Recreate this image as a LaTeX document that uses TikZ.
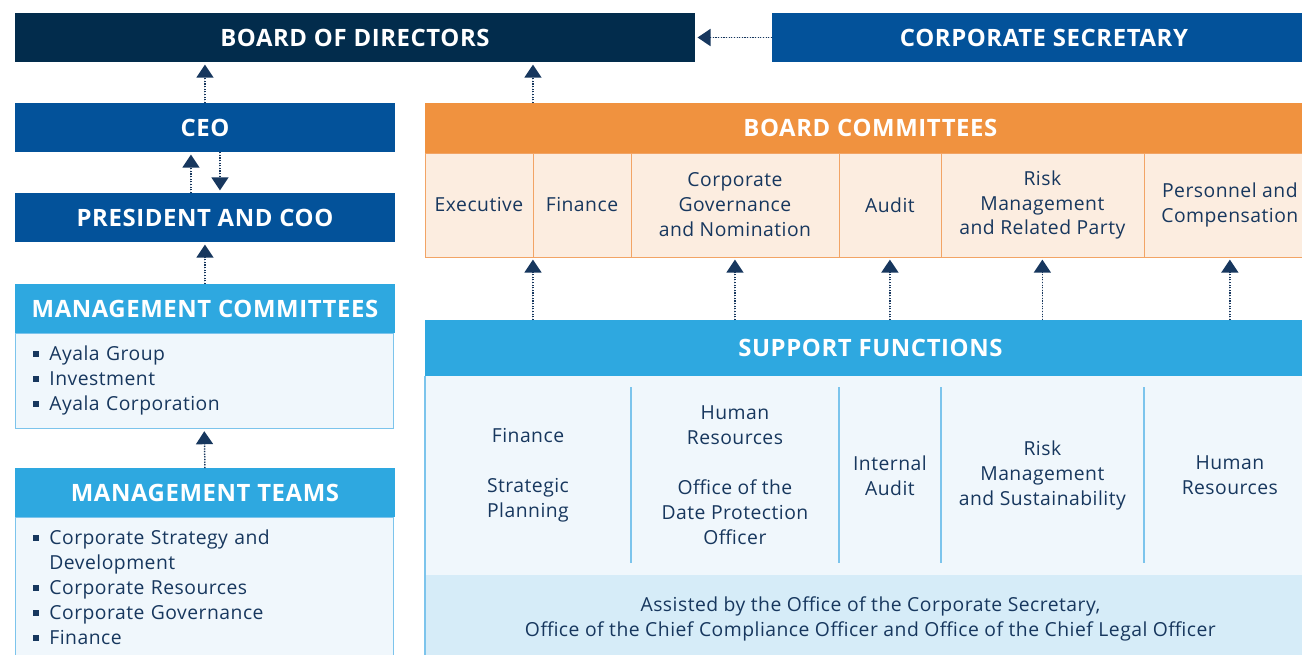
\documentclass[tikz,border=0pt]{standalone}
\usepackage{fontspec}
\setmainfont{Open Sans}[LetterSpace=2.5]
\usetikzlibrary{arrows.meta,positioning,calc}

\definecolor{navy}{HTML}{022C4C}
\definecolor{corpblue}{HTML}{03529A}
\definecolor{sky}{HTML}{2EA8E0}
\definecolor{orng}{HTML}{F0923F}
\definecolor{peach}{HTML}{FCEDE0}
\definecolor{peachline}{HTML}{F2A465}
\definecolor{pale}{HTML}{F0F7FC}
\definecolor{paleline}{HTML}{7CC4EC}
\definecolor{band}{HTML}{D6ECF8}
\definecolor{ink}{HTML}{17375E}

\newcommand\sqb{\makebox[9.4pt][l]{\rule[2.2pt]{3.4pt}{3.4pt}}}

\begin{document}
\begin{tikzpicture}[x=0.02cm,y=-0.02cm,
  font=\fontsize{11}{14.2}\selectfont,
  hd/.style={anchor=north west,minimum height=0.98cm,inner sep=0pt,outer sep=0pt,
    text=white,font=\fontsize{13.6}{16}\selectfont\bfseries},
  lst/.style={anchor=north west,draw=paleline,fill=pale,text=ink,align=left,
    inner xsep=10.2pt,inner ysep=7.5pt,outer sep=0pt,text width=195pt},
  cell/.style={draw=peachline,fill=peach,text=ink,align=center,
    minimum height=2.08cm,inner sep=0pt,outer sep=0pt},
  sup/.style={text=ink,align=center,inner sep=0pt},
  div/.style={draw=paleline,line width=0.8pt},
  ar/.style={-{Triangle[width=0.34cm,length=0.26cm]},draw=ink,fill=ink,
    line width=0.85pt,dash pattern={on 0.7pt off 0.8pt},shorten >=1.5pt}]
\useasboundingbox (0,0) rectangle (1302,654);
\clip (0,0) rectangle (1302,654);

% top row
\node[hd,fill=navy,minimum width=13.6cm] (bod) at (15,13) {BOARD OF DIRECTORS};
\node[hd,fill=corpblue,minimum width=10.88cm] (sec) at (772,13) {CORPORATE SECRETARY};

% left column
\node[hd,fill=corpblue,minimum width=7.6cm] (ceo) at (15,103) {CEO};
\node[hd,fill=corpblue,minimum width=7.6cm] (pres) at (15,193) {PRESIDENT AND COO};
\node[hd,fill=sky,minimum width=7.6cm] (mc) at (15,284) {MANAGEMENT COMMITTEES};
\node[lst] (mcl) at (mc.south west) {\sqb Ayala Group\\ \sqb Investment\\ \sqb Ayala Corporation};
\node[hd,fill=sky,minimum width=7.6cm] (mt) at (15,468) {MANAGEMENT TEAMS};
\node[lst] (mtl) at (mt.south west) {\sqb Corporate Strategy and\\ \hspace*{9.4pt}Development\\
  \sqb Corporate Resources\\ \sqb Corporate Governance\\ \sqb Finance};

% board committees
\node[hd,fill=orng,minimum width=17.82cm,minimum height=1cm] (bc) at (425,103) {BOARD COMMITTEES};
\node[cell,anchor=north west,minimum width=2.16cm] (c1) at (bc.south west) {Executive};
\node[cell,minimum width=1.96cm,right=0pt of c1] (c2) {Finance};
\node[cell,minimum width=4.16cm,right=0pt of c2] (c3) {Corporate\\ Governance\\ and Nomination};
\node[cell,minimum width=2.04cm,right=0pt of c3] (c4) {Audit};
\node[cell,minimum width=4.06cm,right=0pt of c4] (c5) {Risk\\ Management\\ and Related Party};
\node[cell,minimum width=3.44cm,right=0pt of c5] (c6) {Personnel and\\ Compensation};

% support functions
\node[hd,fill=sky,minimum width=17.82cm,minimum height=1.12cm] (sf) at (425,320) {SUPPORT FUNCTIONS};
\node[anchor=north west,fill=pale,minimum width=17.82cm,minimum height=3.98cm,
  inner sep=0pt,outer sep=0pt] (sfb) at (sf.south west) {};
\node[anchor=north west,fill=band,text=ink,align=center,minimum width=17.82cm,
  minimum height=1.74cm,inner sep=0pt,outer sep=0pt] (band) at (sfb.south west)
  {Assisted by the Office of the Corporate Secretary,\\
   Office of the Chief Compliance Officer and Office of the Chief Legal Officer};
\draw[paleline,line width=0.6pt] (sf.south west) -- (band.south west);

\coordinate (m1) at ($(c1.west)!0.5!(c3.west)$);
\node[sup] (s1) at (m1 |- sfb.center) {Finance\\ \mbox{}\\ Strategic\\ Planning};
\node[sup] (s2) at (c3 |- sfb.center) {Human\\ Resources\\ \mbox{}\\ Office of the\\ Date Protection\\ Officer};
\node[sup] (s3) at (c4 |- sfb.center) {Internal\\ Audit};
\node[sup] (s4) at (c5 |- sfb.center) {Risk\\ Management\\ and Sustainability};
\node[sup] (s5) at (c6 |- sfb.center) {Human\\ Resources};
\foreach \c in {c3,c4,c5,c6}
  \draw[div] ($(sfb.north -| \c.west)+(0,11)$) -- ($(sfb.south -| \c.west)+(0,-12)$);

% connectors
\draw[ar] (sec.west) -- (bod.east);
\draw[ar] (ceo.north) -- (ceo.north |- bod.south);
\draw[ar] (bc.north -| c1.east) -- (bod.south -| c1.east);
\draw[ar] ([xshift=-0.28cm]pres.north) -- ([xshift=-0.28cm]ceo.south);
\draw[ar] ([xshift=0.3cm]ceo.south) -- ([xshift=0.3cm]pres.north);
\draw[ar] (mc.north) -- (pres.south);
\draw[ar] (mt.north) -- (mcl.south);
\draw[ar] (sf.north -| c1.east) -- (c1.south east);
\foreach \c in {c3,c4,c5,c6}
  \draw[ar] (sf.north -| \c.south) -- (\c.south);
\end{tikzpicture}
\end{document}
